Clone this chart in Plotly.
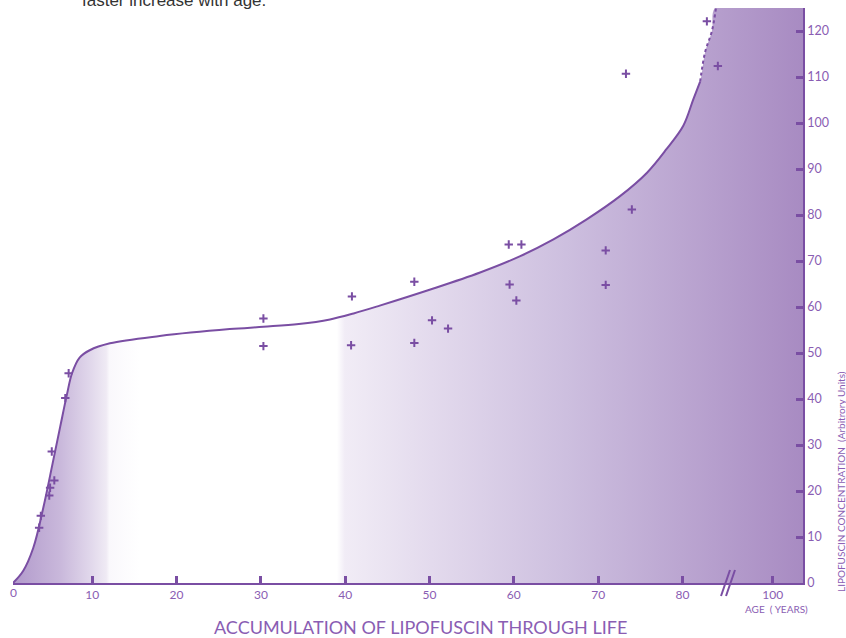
import plotly.graph_objects as go

# ---- data ----
curve_age = [0.6, 1.8, 3.0, 4.2, 5.3, 6.2, 7.0, 7.6, 8.5, 9.7, 12.1, 18.0, 26.3, 30.3,
             34.5, 38.2, 41.0, 44.1, 50.1, 56.0, 60.7, 64.7, 68.6, 72.6, 75.8, 78.1,
             80.1, 81.3, 82.1, 82.7, 83.5, 84.0]
curve_val = [0.0, 2.6, 7.6, 16.4, 26.0, 34.0, 41.0, 45.6, 49.0, 50.6, 52.1, 53.7, 55.2, 55.7,
             56.3, 57.3, 58.6, 60.3, 63.8, 67.5, 71.0, 74.7, 79.0, 84.1, 89.2, 94.3,
             99.4, 105.2, 109.0, 115.5, 120.0, 125.3]
solid_until_age = 82.1  # curve becomes dotted after this

point_age = [3.7, 3.9, 4.9, 5.0, 5.5, 5.2, 6.8, 7.2,
             30.3, 30.3, 40.8, 40.7, 48.2, 48.2, 50.3, 52.2, 59.5, 60.3,
             59.4, 60.9, 70.9, 70.9, 74.0, 73.3, 82.9, 84.2]
point_val = [12.0, 14.6, 19.0, 20.7, 22.3, 28.6, 40.2, 45.6,
             57.5, 51.5, 62.3, 51.7, 65.5, 52.2, 57.1, 55.3, 64.9, 61.4,
             73.6, 73.6, 72.3, 64.8, 81.2, 110.7, 122.1, 112.4]

x_tick_labels = ["10", "20", "30", "40", "50", "60", "70", "80", "100"]
y_tick_vals = [0, 10, 20, 30, 40, 50, 60, 70, 80, 90, 100, 110, 120]

# ---- styling ----
PURPLE = "#7a4ea3"
TEXT = "#8a5db3"
FONT = "Lato"
X_MIN, X_MAX = 0.6, 94.3
Y_MAX = 125.0
AGE100_POS = 90.7  # position of "100" after the axis break

tick_pos = [float(t) if float(t) <= 80 else AGE100_POS for t in x_tick_labels]

fig = go.Figure()

# gradient filled area under the curve
fill_x = curve_age + [X_MAX]
fill_y = curve_val + [curve_val[-1]]
fig.add_trace(go.Scatter(
    x=fill_x, y=fill_y, mode="lines", line=dict(width=0, shape="spline", smoothing=1.0),
    fill="tozeroy",
    fillgradient=dict(type="horizontal", colorscale=[
        [0.0, "#b29acb"], [0.015, "#b7a1cf"], [0.06, "#c9b8db"], [0.10, "#e2d9ec"],
        [0.118, "#efeaf4"], [0.122, "#faf8fc"], [0.16, "#ffffff"], [0.41, "#ffffff"],
        [0.42, "#f1ecf6"], [0.53, "#e3daed"], [0.70, "#cdbfdf"], [1.0, "#a88bc2"]]),
    hoverinfo="skip", showlegend=False))

# solid and dotted parts of the curve
solid_idx = [i for i, a in enumerate(curve_age) if a <= solid_until_age]
dot_idx = [i for i, a in enumerate(curve_age) if a >= solid_until_age]
fig.add_trace(go.Scatter(
    x=[curve_age[i] for i in solid_idx], y=[curve_val[i] for i in solid_idx],
    mode="lines", line=dict(color=PURPLE, width=2, shape="spline", smoothing=1.0),
    showlegend=False))
fig.add_trace(go.Scatter(
    x=[curve_age[i] for i in dot_idx], y=[curve_val[i] for i in dot_idx],
    mode="lines", line=dict(color=PURPLE, width=2, dash="dot", shape="spline"),
    showlegend=False))

# measured points
fig.add_trace(go.Scatter(
    x=point_age, y=point_val, mode="markers",
    marker=dict(symbol="cross-thin", size=6, line=dict(color=PURPLE, width=2)),
    showlegend=False))

fig.update_layout(
    width=846, height=638,
    margin=dict(l=13, r=43, t=8, b=55),
    paper_bgcolor="white", plot_bgcolor="white",
    font=dict(family=FONT, color=TEXT),
    xaxis=dict(range=[X_MIN, X_MAX], tickvals=tick_pos, ticktext=x_tick_labels,
               ticks="inside", ticklen=7, tickwidth=2.5, tickcolor=PURPLE,
               showline=True, linecolor=PURPLE, linewidth=1.5,
               showgrid=False, zeroline=False, tickfont=dict(size=12, color=TEXT, family=FONT)),
    yaxis=dict(range=[0, Y_MAX], side="right", tickvals=y_tick_vals,
               ticks="inside", ticklen=7, tickwidth=2.5, tickcolor=PURPLE,
               showline=True, linecolor=PURPLE, linewidth=1.5,
               showgrid=False, zeroline=False, tickfont=dict(size=12.5, color=TEXT, family=FONT)),
)

# "0" label at the origin
fig.add_annotation(x=X_MIN, y=0, xref="x", yref="paper", yshift=-9, text="0",
                   xanchor="center", yanchor="middle",
                   showarrow=False, font=dict(size=12, color=TEXT, family=FONT))
# axis break marks
for dx in (0, 5):
    fig.add_shape(type="line", xref="paper", yref="paper",
                  x0=(721 + dx - 13) / 790, y0=(583 - 596) / 575,
                  x1=(730 + dx - 13) / 790, y1=(583 - 570) / 575,
                  line=dict(color=PURPLE, width=2))

fig.add_annotation(x=(776 - 13) / 790, y=(583 - 609) / 575, xref="paper", yref="paper",
                   xanchor="center", yanchor="middle",
                   text="AGE  ( YEARS)", showarrow=False,
                   font=dict(size=10, color=TEXT, family=FONT))
fig.add_annotation(x=(420 - 13) / 790, y=(583 - 627) / 575, xref="paper", yref="paper",
                   xanchor="center", yanchor="middle",
                   text="ACCUMULATION OF LIPOFUSCIN THROUGH LIFE", showarrow=False,
                   font=dict(size=18, color=TEXT, family=FONT))
fig.add_annotation(x=(841 - 13) / 790, y=(583 - 482) / 575, xref="paper", yref="paper",
                   xanchor="center", yanchor="middle",
                   text="LIPOFUSCIN CONCENTRATION  (Arbitrory Units)", textangle=-90,
                   showarrow=False, font=dict(size=10, color=TEXT, family=FONT))
fig.add_annotation(x=(80 - 13) / 790, y=(583 - 12) / 575, xref="paper", yref="paper",
                   xanchor="left", yanchor="bottom",
                   text="faster increase with age.", showarrow=False,
                   font=dict(size=17, color="#333333", family="Liberation Sans"))

fig.write_html("out.html", config={"displayModeBar": False},
               post_script="document.body.style.margin='0';")
